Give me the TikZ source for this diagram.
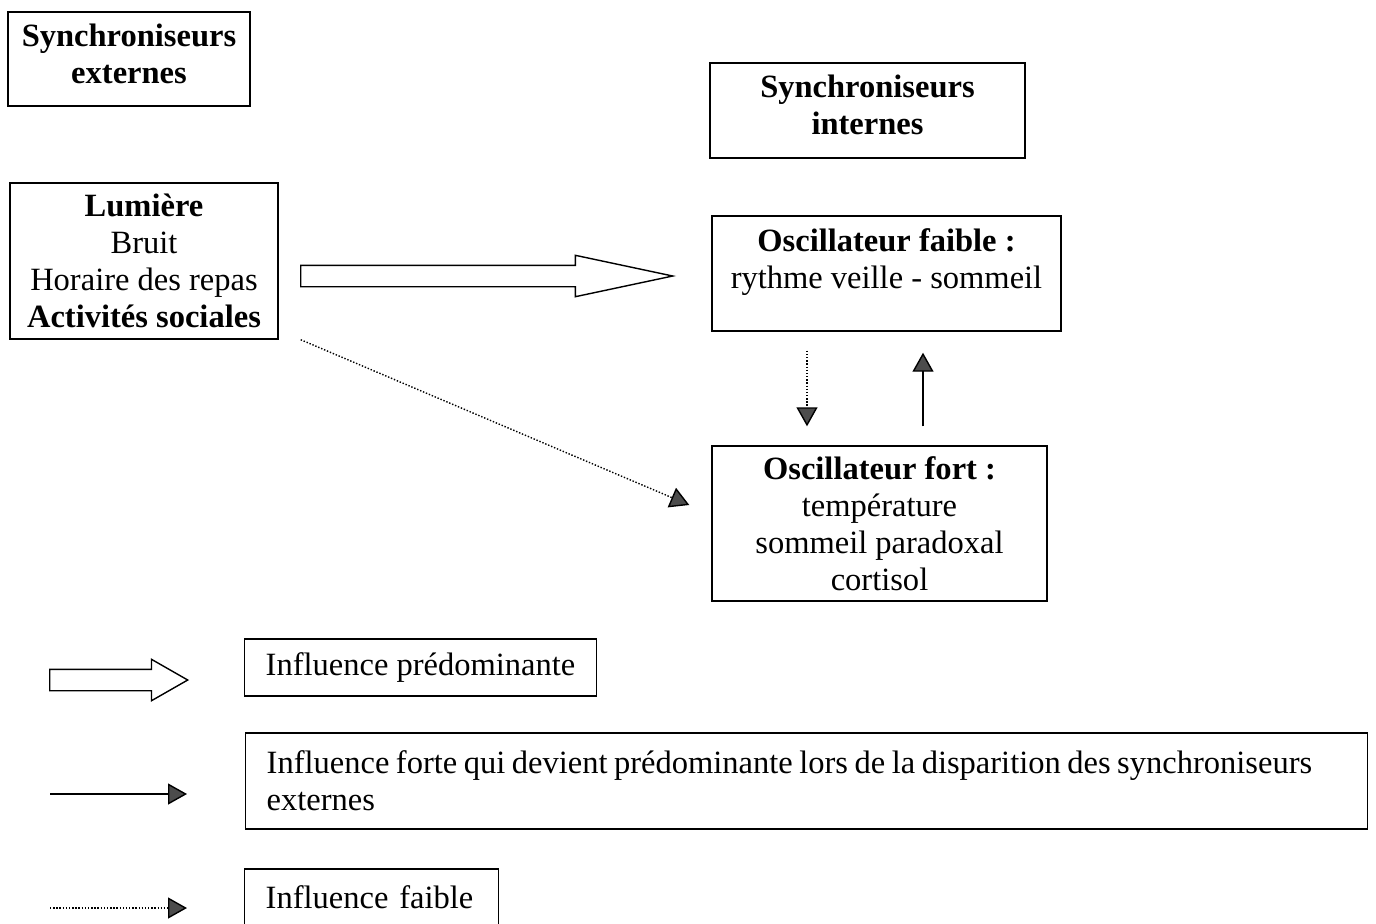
\documentclass[tikz,border=0pt]{standalone}
\usepackage{fontspec}
\setmainfont{Liberation Serif}
\usetikzlibrary{arrows.meta,shapes.arrows}

\tikzset{
  box/.style={draw, line width=0.8pt, align=center, inner sep=0pt},
  legbox/.style={draw, line width=0.8pt, align=left, anchor=west, inner xsep=0.42cm},
  hollow/.style={single arrow, draw, line width=0.8pt, anchor=tail, inner sep=0pt,
    text height=0.4cm, text depth=0pt, minimum width=0pt, single arrow head extend=0.2cm},
  headtip/.style={-{Triangle[length=0.38cm,width=0.42cm,fill=gray!60!black]}},
  strong/.style={line width=0.8pt, headtip},
  weak/.style={line width=0.8pt, densely dotted, headtip},
}

\begin{document}
\begin{tikzpicture}[font=\fontsize{18.5}{21}\selectfont]
\path[use as bounding box, clip] (0,0) rectangle (27.52,-18.46);

% synchroniseurs
\node[box, minimum width=4.84cm, minimum height=1.88cm] (ext) at (2.58,-1.18) {\textbf{Synchroniseurs}\\\textbf{externes}\strut};
\node[box, minimum width=6.3cm, minimum height=1.9cm] (int) at (17.35,-2.21) {\textbf{Synchroniseurs}\\\textbf{internes}\strut};
\node[box, minimum width=5.36cm, minimum height=3.12cm] (src) at (2.88,-5.22) {\textbf{Lumière}\\Bruit\\Horaire des repas\\\textbf{Activités sociales}};
\node[box, minimum width=6.98cm, minimum height=2.3cm,
  label={[align=center, anchor=north, inner sep=0pt, yshift=-0.26cm]north:{\textbf{Oscillateur faible :}\\rythme veille - sommeil}}] (faible) at (17.73,-5.47) {};
\node[box, minimum width=6.7cm, minimum height=3.1cm] (fort) at (17.59,-10.47) {\textbf{Oscillateur fort :}\\température\\sommeil paradoxal\\cortisol};

% influences
\node[hollow, minimum height=7.44cm, single arrow tip angle=24] (predom) at (6.0,-5.52) {};
\draw[weak] ([xshift=0.44cm]src.south east) -- ([xshift=-0.44cm, yshift=0.37cm]fort.west);
\draw[weak, shorten <=0.38cm, shorten >=0.38cm] ([xshift=-1.59cm]faible.south) -- ([xshift=-1.59cm]faible.south |- fort.north);
\draw[strong, shorten <=0.38cm, shorten >=0.42cm] ([xshift=0.73cm]faible.south |- fort.north) -- ([xshift=0.73cm]faible.south);

% legende
\node[legbox, minimum height=1.14cm] (leg1) at (4.88,-13.35) {Influence prédominante};
\node[legbox, text width=21.6cm, minimum height=1.92cm] (leg2) at (4.9,-15.62) {\mbox{\spaceskip=0.2em\relax Influence forte qui devient prédominante lors de la disparition des synchroniseurs}\\externes};
\node[legbox, minimum height=1.14cm, text width=4.24cm] (leg3) at (4.88,-17.95) {\mbox{Influence faible}};

\node[hollow, minimum height=2.76cm, single arrow tip angle=59.5] (legpredom) at (0.98,-13.6) {};
\coordinate (s1) at (1.0,-15.88);
\coordinate (s2) at (3.74,-15.88);
\coordinate (w1) at (1.0,-18.16);
\coordinate (w2) at (3.74,-18.16);
\draw[strong] (s1) -- (s2);
\draw[weak] (w1) -- (w2);
\end{tikzpicture}
\end{document}
